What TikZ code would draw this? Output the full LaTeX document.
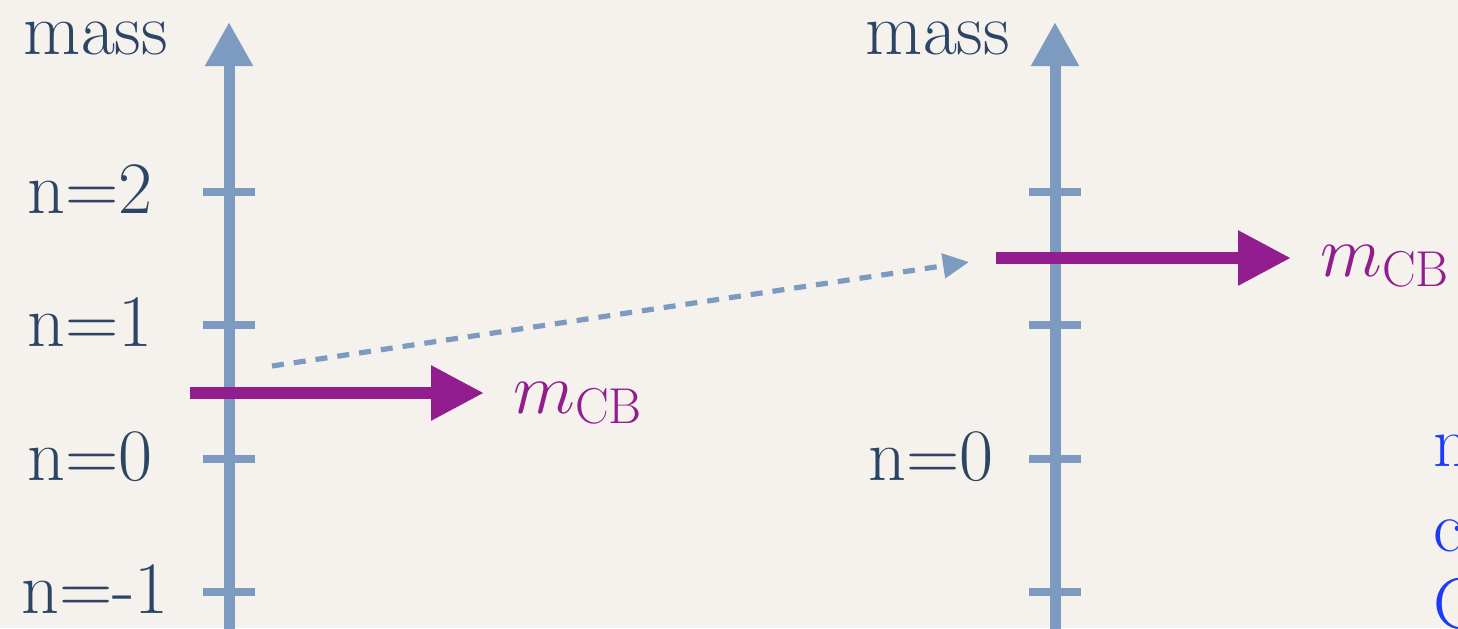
\RequirePackage{fix-cm}
\documentclass[tikz,border=0pt]{standalone}
\usetikzlibrary{arrows.meta}
\definecolor{bg}{HTML}{F5F2EE}
\definecolor{axis}{HTML}{7D9BC0}
\definecolor{navy}{HTML}{2C4565}
\definecolor{purp}{HTML}{921D8E}
\definecolor{bluetxt}{HTML}{1C3BF5}
\tikzset{
  axisline/.style={draw=axis, line width=5.5pt, -{Triangle[length=22pt,width=22.5pt]}},
  tickline/.style={draw=axis, line width=4pt},
  lbl/.style={text=navy, font=\fontsize{37}{42}\selectfont, inner sep=0pt},
  mlbl/.style={text=purp, font=\fontsize{36}{42}\selectfont, inner sep=0pt, anchor=base west},
  parrow/.style={draw=purp, line width=6pt, -{Triangle[length=26.5pt,width=26pt]}},
  darrow/.style={draw=axis, line width=2.6pt, dash pattern=on 6pt off 5pt, -{Triangle[length=13pt,width=12pt]}},
  btxt/.style={text=bluetxt, font=\fontsize{36}{42}\selectfont, inner sep=0pt, anchor=base west}
}
\begin{document}
\begin{tikzpicture}[x=0.5pt,y=-0.5pt]
\useasboundingbox (0,0) rectangle (1458,628);
\clip (0,0) rectangle (1458,628);
\fill[bg] (0,0) rectangle (1458,628);
% left axis
\coordinate (lb) at (229,640);
\coordinate (lt) at (229,22);
\draw[axisline] (lb) -- (lt);
\foreach \y in {192,325,459,592} \draw[tickline] (203,\y) -- (255,\y);
\node[lbl, anchor=base] (lmass) at (96,54) {mass};
\node[lbl, anchor=base] (n2) at (90,213) {n=2};
\node[lbl, anchor=base] (n1) at (90,346) {n=1};
\node[lbl, anchor=base] (n0) at (90,480) {n=0};
\node[lbl, anchor=base] (nm1) at (95,613) {n=-1};
% right axis
\coordinate (rb) at (1055,640);
\coordinate (rt) at (1055,22);
\draw[axisline] (rb) -- (rt);
\foreach \y in {192,325,459,592} \draw[tickline] (1029,\y) -- (1081,\y);
\node[lbl, anchor=base] (rmass) at (938,54) {mass};
\node[lbl, anchor=base] (rn0) at (931,480) {n=0};
% purple arrows
\coordinate (pl0) at (190,393);
\coordinate (pl1) at (484,393);
\draw[parrow] (pl0) -- (pl1);
\node[mlbl] (mcbl) at (513,413) {$m_{\mathrm{CB}}$};
\coordinate (pr0) at (996,258);
\coordinate (pr1) at (1291,258);
\draw[parrow] (pr0) -- (pr1);
\node[mlbl] (mcbr) at (1320,276) {$m_{\mathrm{CB}}$};
% dashed arrow
\coordinate (d0) at (272,366);
\coordinate (d1) at (969,262);
\draw[darrow] (d0) -- (d1);
% blue text cut off at the right
\node[btxt] (b1) at (1433,466) {n};
\node[btxt] (b2) at (1433,551) {c};
\node[btxt] (b3) at (1433,628) {C};
\end{tikzpicture}
\end{document}
